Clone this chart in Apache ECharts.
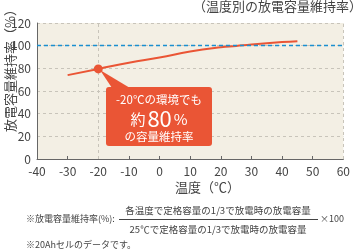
<!DOCTYPE html>
<html><head><meta charset="utf-8">
<script src="https://cdn.jsdelivr.net/npm/echarts@6/dist/echarts.min.js"></script>
<style>html,body{margin:0;padding:0;background:#fff}#c{width:353px;height:252px}</style>
</head><body><div id="c"></div>
<script>
const temperatures = [-30, -20, -10, 0, 10, 20, 25, 30, 40, 45];
const retention = [74, 79.5, 85, 89.6, 94.8, 98.6, 99.8, 101.1, 103.2, 104];
const highlightTemp = -20;
const highlightValue = 79.5;
const xTicks = [-40, -30, -20, -10, 0, 10, 20, 30, 40, 50, 60];
const yTicks = [0, 20, 40, 60, 80, 100, 120];

const FONT = '"Noto Sans CJK JP", "Noto Sans", sans-serif';
const RED = '#EA5535';
const chart = echarts.init(document.getElementById('c'), null, {renderer: 'canvas'});
chart.setOption({
  animation: false,
  textStyle: {fontFamily: FONT},
  grid: {left: 37, right: 7, top: 23, bottom: 93, show: true, backgroundColor: '#F3EFE4', borderWidth: 0},
  xAxis: {
    type: 'value', min: xTicks[0], max: xTicks[xTicks.length - 1], interval: 10,
    axisLine: {show: true, onZero: false, lineStyle: {color: '#666', width: 1}},
    axisTick: {show: true, inside: true, length: 3, lineStyle: {color: '#666'}},
    axisLabel: {color: '#444', fontSize: 12, margin: 6, fontFamily: FONT},
    splitLine: {show: false}
  },
  yAxis: {
    type: 'value', min: yTicks[0], max: yTicks[yTicks.length - 1], interval: 20,
    axisLine: {show: true, onZero: false, lineStyle: {color: '#666', width: 1}},
    axisTick: {show: false},
    axisLabel: {fontSize: 12, margin: 6, fontFamily: FONT,
      color: function (v) { return v === 100 ? '#1A8FD0' : '#444'; }},
    splitLine: {show: true, lineStyle: {color: '#C8C4BA', type: [3, 3], width: 1}}
  },
  series: [{
    type: 'line', smooth: true, symbol: 'none',
    data: temperatures.map((t, i) => [t, retention[i]]),
    lineStyle: {color: RED, width: 2},
    markLine: {
      silent: true, symbol: 'none', label: {show: false},
      data: [
        {yAxis: 100, lineStyle: {color: '#1A8FD0', type: [4, 3], width: 1.3}},
        {xAxis: -20, lineStyle: {color: '#C8C4BA', type: [3, 3], width: 1}},
        {xAxis: 60, lineStyle: {color: '#C8C4BA', type: [3, 3], width: 1}}
      ]
    },
    markPoint: {
      silent: true, symbol: 'circle', symbolSize: 9, label: {show: false},
      itemStyle: {color: RED, opacity: 1, borderWidth: 0},
      data: [{coord: [highlightTemp, highlightValue]}]
    },
    z: 3
  }],
  graphic: [
    {type: 'text', left: 193, top: 0, style: {text: '（温度別の放電容量維持率）', fill: '#444', font: '13px ' + FONT}},
    {type: 'text', x: 4, y: 132, rotation: Math.PI / 2, style: {text: '放電容量維持率（%）', fill: '#444', font: '13px ' + FONT}},
    {type: 'text', left: 175, top: 181, style: {text: '温度（℃）', fill: '#444', font: '13px ' + FONT}},
    {type: 'polygon', shape: {points: [[100, 70], [112, 88], [130, 88]]}, style: {fill: RED}, z: 10},
    {type: 'rect', shape: {x: 106, y: 87, width: 106, height: 59, r: 3}, style: {fill: RED}, z: 10},
    {type: 'text', x: 159, y: 100, style: {text: '-20℃の環境でも', fill: '#fff', font: '11.5px ' + FONT, align: 'center', verticalAlign: 'middle'}, z: 11},
    {type: 'text', x: 159, y: 119, style: {text: '{a|約}{b|80}{c|%}', align: 'center', verticalAlign: 'middle',
      rich: {a: {fill: '#fff', fontSize: 15, fontFamily: FONT}, b: {fill: '#fff', fontSize: 22, fontFamily: FONT, padding: [0, 2, 0, 2]}, c: {fill: '#fff', fontSize: 15, fontFamily: FONT}}}, z: 11},
    {type: 'text', x: 159, y: 137, style: {text: 'の容量維持率', fill: '#fff', font: '11.5px ' + FONT, align: 'center', verticalAlign: 'middle'}, z: 11},
    {type: 'text', x: 26, y: 219, style: {text: '※放電容量維持率(%):', fill: '#444', font: '9px ' + FONT, verticalAlign: 'middle'}},
    {type: 'text', x: 218, y: 210, style: {text: '各温度で定格容量の1/3で放電時の放電容量', fill: '#444', font: '9.5px ' + FONT, align: 'center', verticalAlign: 'middle'}},
    {type: 'line', shape: {x1: 119, y1: 219.5, x2: 318, y2: 219.5}, style: {stroke: '#444', lineWidth: 1}},
    {type: 'text', x: 218, y: 229, style: {text: '25℃で定格容量の1/3で放電時の放電容量', fill: '#444', font: '9.5px ' + FONT, align: 'center', verticalAlign: 'middle'}},
    {type: 'text', x: 320, y: 219, style: {text: '×100', fill: '#444', font: '9px ' + FONT, verticalAlign: 'middle'}},
    {type: 'text', x: 26, y: 245, style: {text: '※20Ahセルのデータです。', fill: '#444', font: '9px ' + FONT, verticalAlign: 'middle'}}
  ]
});
</script></body></html>
